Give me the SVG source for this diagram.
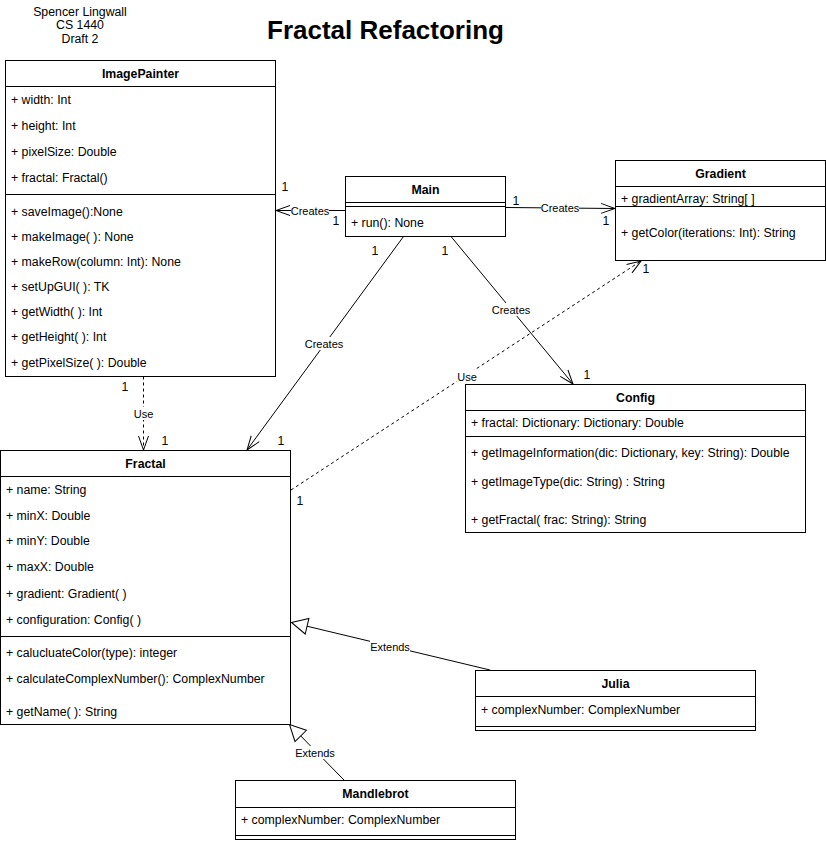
<svg xmlns="http://www.w3.org/2000/svg" width="826" height="841" viewBox="0 0 826 841">
<defs>
<style>
.box{fill:#fff;stroke:#000;stroke-width:1}
.ln{stroke:#000;stroke-width:1;fill:none}
.t{font-family:"Liberation Sans",Arial,Helvetica,sans-serif;font-size:12.3px;fill:#000}
.b{font-weight:bold}
.c{text-anchor:middle}
.lbl{font-family:"Liberation Sans",Arial,Helvetica,sans-serif;font-size:11px;fill:#000;text-anchor:middle}
.edge{stroke:#000;stroke-width:1;fill:none}
.dash{stroke-dasharray:3 3}
.bg{fill:#fff;stroke:none}
</style>
<marker id="open" markerUnits="userSpaceOnUse" markerWidth="16" markerHeight="12" refX="14" refY="5" orient="auto" overflow="visible">
<path d="M0,0 L14,5 L0,10" fill="none" stroke="#000" stroke-width="1"/>
</marker>
<marker id="tri" markerUnits="userSpaceOnUse" markerWidth="18" markerHeight="18" refX="16" refY="8" orient="auto" overflow="visible">
<path d="M0,0 L16,8 L0,16 Z" fill="#fff" stroke="#000" stroke-width="1"/>
</marker>
</defs>
<rect x="0" y="0" width="826" height="841" fill="#fff"/>

<g id="author">
<text class="t c" x="80" y="16">Spencer Lingwall</text>
<text class="t c" x="80" y="29">CS 1440</text>
<text class="t c" x="80" y="43">Draft 2</text>
</g>
<g id="title">
<text class="t b c" x="385.5" y="39" style="font-size:26px">Fractal Refactoring</text>
</g>

<g id="connectors">
<line class="edge" x1="345" y1="210.5" x2="276" y2="210.5" marker-end="url(#open)"/>
<line class="edge" x1="505.5" y1="207.5" x2="615" y2="208.5" marker-end="url(#open)"/>
<line class="edge" x1="403.5" y1="236.5" x2="247" y2="450" marker-end="url(#open)"/>
<line class="edge" x1="451" y1="236.5" x2="573" y2="384" marker-end="url(#open)"/>
<line class="edge dash" x1="143.5" y1="376.5" x2="143.5" y2="450" marker-end="url(#open)"/>
<line class="edge dash" x1="291" y1="490" x2="641" y2="261" marker-end="url(#open)"/>
<line class="edge" x1="490" y1="670" x2="291.5" y2="622.5" marker-end="url(#tri)"/>
<line class="edge" x1="344" y1="780" x2="289.5" y2="724.5" marker-end="url(#tri)"/>

<rect class="bg" x="291" y="204" width="38" height="13"/>
<text class="lbl" x="310" y="215">Creates</text>
<rect class="bg" x="541" y="201" width="38" height="13"/>
<text class="lbl" x="560" y="212">Creates</text>
<rect class="bg" x="305" y="337" width="38" height="13"/>
<text class="lbl" x="324" y="348">Creates</text>
<rect class="bg" x="492" y="303" width="38" height="13"/>
<text class="lbl" x="511" y="314">Creates</text>
<rect class="bg" x="133" y="407" width="21" height="13"/>
<text class="lbl" x="143.5" y="418">Use</text>
<rect class="bg" x="457" y="370" width="21" height="13"/>
<text class="lbl" x="467" y="381">Use</text>
<rect class="bg" x="370" y="640" width="40" height="13"/>
<text class="lbl" x="390" y="651">Extends</text>
<rect class="bg" x="295" y="746" width="40" height="13"/>
<text class="lbl" x="315" y="757">Extends</text>

<text class="t c" x="285" y="191">1</text>
<text class="t c" x="336" y="225">1</text>
<text class="t c" x="516" y="205">1</text>
<text class="t c" x="606" y="225">1</text>
<text class="t c" x="375" y="255">1</text>
<text class="t c" x="281" y="445">1</text>
<text class="t c" x="445" y="255">1</text>
<text class="t c" x="587" y="379">1</text>
<text class="t c" x="125" y="391">1</text>
<text class="t c" x="165" y="445">1</text>
<text class="t c" x="300" y="505">1</text>
<text class="t c" x="646" y="273">1</text>
</g>

<g id="ImagePainter">
<rect class="box" x="5.5" y="60.5" width="270" height="316"/>
<line class="ln" x1="5.5" y1="86.5" x2="275.5" y2="86.5"/>
<line class="ln" x1="5.5" y1="194.5" x2="275.5" y2="194.5"/>
<text class="t b c" x="140.5" y="78">ImagePainter</text>
<text class="t" x="11" y="104">+ width: Int</text>
<text class="t" x="11" y="130">+ height: Int</text>
<text class="t" x="11" y="156">+ pixelSize: Double</text>
<text class="t" x="11" y="182">+ fractal: Fractal()</text>
<text class="t" x="11" y="216">+ saveImage():None</text>
<text class="t" x="11" y="241">+ makeImage( ): None</text>
<text class="t" x="11" y="266">+ makeRow(column: Int): None</text>
<text class="t" x="11" y="291">+ setUpGUI( ): TK</text>
<text class="t" x="11" y="316">+ getWidth( ): Int</text>
<text class="t" x="11" y="341">+ getHeight( ): Int</text>
<text class="t" x="11" y="367">+ getPixelSize( ): Double</text>
</g>

<g id="Main">
<rect class="box" x="345.5" y="176.5" width="160" height="60"/>
<line class="ln" x1="345.5" y1="202.5" x2="505.5" y2="202.5"/>
<line class="ln" x1="345.5" y1="206.5" x2="505.5" y2="206.5"/>
<text class="t b c" x="425.5" y="194">Main</text>
<text class="t" x="351" y="227">+ run(): None</text>
</g>

<g id="Gradient">
<rect class="box" x="615.5" y="160.5" width="210" height="100"/>
<line class="ln" x1="615.5" y1="186.5" x2="825.5" y2="186.5"/>
<line class="ln" x1="615.5" y1="206.5" x2="825.5" y2="206.5"/>
<text class="t b c" x="720.5" y="178">Gradient</text>
<text class="t" x="621" y="203">+ gradientArray: String[ ]</text>
<text class="t" x="621" y="237">+ getColor(iterations: Int): String</text>
</g>

<g id="Config">
<rect class="box" x="465.5" y="384.5" width="340" height="148"/>
<line class="ln" x1="465.5" y1="410.5" x2="805.5" y2="410.5"/>
<line class="ln" x1="465.5" y1="436.5" x2="805.5" y2="436.5"/>
<text class="t b c" x="635.5" y="402">Config</text>
<text class="t" x="471" y="427">+ fractal: Dictionary: Dictionary: Double</text>
<text class="t" x="471" y="457">+ getImageInformation(dic: Dictionary, key: String): Double</text>
<text class="t" x="471" y="486">+ getImageType(dic: String) : String</text>
<text class="t" x="471" y="524">+ getFractal( frac: String): String</text>
</g>

<g id="Fractal">
<rect class="box" x="0.5" y="450.5" width="290" height="274"/>
<line class="ln" x1="0.5" y1="476.5" x2="290.5" y2="476.5"/>
<line class="ln" x1="0.5" y1="636.5" x2="290.5" y2="636.5"/>
<text class="t b c" x="145.5" y="468">Fractal</text>
<text class="t" x="6" y="494">+ name: String</text>
<text class="t" x="6" y="520">+ minX: Double</text>
<text class="t" x="6" y="545">+ minY: Double</text>
<text class="t" x="6" y="571">+ maxX: Double</text>
<text class="t" x="6" y="598">+ gradient: Gradient( )</text>
<text class="t" x="6" y="624">+ configuration: Config( )</text>
<text class="t" x="6" y="657">+ calucluateColor(type): integer</text>
<text class="t" x="6" y="683">+ calculateComplexNumber(): ComplexNumber</text>
<text class="t" x="6" y="716">+ getName( ): String</text>
</g>

<g id="Julia">
<rect class="box" x="475.5" y="670.5" width="280" height="60"/>
<line class="ln" x1="475.5" y1="696.5" x2="755.5" y2="696.5"/>
<line class="ln" x1="475.5" y1="726.5" x2="755.5" y2="726.5"/>
<text class="t b c" x="615.5" y="688">Julia</text>
<text class="t" x="481" y="714">+ complexNumber: ComplexNumber</text>
</g>

<g id="Mandlebrot">
<rect class="box" x="235.5" y="780.5" width="280" height="59"/>
<line class="ln" x1="235.5" y1="807.5" x2="515.5" y2="807.5"/>
<line class="ln" x1="235.5" y1="835.5" x2="515.5" y2="835.5"/>
<text class="t b c" x="375.5" y="798">Mandlebrot</text>
<text class="t" x="241" y="824">+ complexNumber: ComplexNumber</text>
</g>
</svg>
